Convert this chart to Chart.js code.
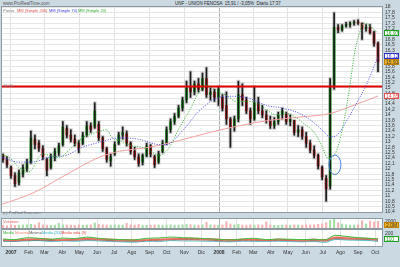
<!DOCTYPE html>
<html>
<head>
<meta charset="utf-8">
<script src="https://cdn.jsdelivr.net/npm/chart.js@4.4.1/dist/chart.umd.min.js"></script>
<style>
  body { margin: 0; width: 400px; height: 267px; overflow: hidden; background: #cbd9e2; font-family: "Liberation Sans", Arial, sans-serif; }
  .box { position: absolute; left: 0; width: 400px; }
  .txt { position: absolute; font-size: 4px; line-height: 5px; white-space: nowrap; color: #333; }
</style>
</head>
<body>
<div class="txt" style="left:3px;top:1px;font-size:4.5px;color:#555">www.ProRealTime.com</div>
<div class="txt" style="left:175px;top:1px;font-size:4.5px;color:#222">UNF - UNION FENOSA &nbsp;15,91 / -3,05% &nbsp;Diario 17:37</div>

<div class="box" style="top:0;height:218px"><canvas id="main"></canvas></div>
<div class="box" style="top:218px;height:41px"><canvas id="lower"></canvas></div>

<div class="txt" style="left:3px;top:8px;color:#777">Precio</div>
<div class="txt" style="left:17px;top:8px;color:#e05050">MM (Simple 200)</div>
<div class="txt" style="left:49px;top:8px;color:#4040e0">MM (Simple 70)</div>
<div class="txt" style="left:78px;top:8px;color:#30b030">MM (Simple 20)</div>
<div class="txt" style="left:3px;top:83px;color:#777">15,00</div>
<div class="txt" style="left:3px;top:210px;color:#777">(c) ProRealTime.com</div>
<div class="txt" style="left:3px;top:219px;color:#e06060">Volumen</div>
<div class="txt" style="left:3px;top:230px;color:#30b030">Media</div>
<div class="txt" style="left:15px;top:230px;color:#f08070">Maxima</div>
<div class="txt" style="left:29px;top:230px;color:#555">Minima</div>
<div class="txt" style="left:42px;top:230px;color:#20b0c0">Media (20)</div>
<div class="txt" style="left:61px;top:230px;color:#e04040">Media vela (9)</div>

<script>
// semanas desde el 1 de enero de 2007 (la primera vela es la semana -2)
const firstWeek = -2;
const xMin = -2.25, xMax = 93;

const monthNames = ["2007", "Feb", "Mar", "Abr", "May", "Jun", "Jul", "Ago", "Sep", "Oct", "Nov", "Dic",
                    "2008", "Feb", "Mar", "Abr", "May", "Jun", "Jul", "Ago", "Sep", "Oct"];

// velas semanales: minimo, maximo, apertura, cierre
const low = [
  12.2, 12.0, 11.6, 11.3, 11.35, 11.65, 11.85, 12.15, 12.7, 12.6, 12.3, 11.7,
  11.95, 12.25, 12.45, 12.8, 13.1, 12.95, 12.8, 12.55, 12.85, 13.15,
  13.3, 13.45, 13.0, 12.6, 12.2, 12.05, 12.45, 12.85, 13.05, 12.8,
  12.5, 12.3, 12.05, 12.1, 12.4, 12.4, 12.0, 12.15, 12.55, 12.85,
  13.3, 13.6, 13.85, 14.1, 14.4, 14.6, 14.7, 14.8, 14.85, 14.6,
  14.5, 14.45, 14.3, 14.1, 13.6, 12.75, 13.35, 13.7, 14.3, 14.0,
  13.6, 13.75, 14.0, 13.85, 13.65, 13.45, 13.45, 13.6, 13.8, 13.6,
  13.55, 13.2, 13.15, 13.05, 12.75, 12.55, 12.35, 11.95, 11.55, 10.75,
  11.2, 14.9, 17.0, 17.05, 17.2, 17.2, 17.28, 17.3, 16.75, 17.05,
  16.95, 16.5, 15.55
];
const high = [
  12.5, 12.4, 12.05, 11.8, 11.9, 12.1, 12.3, 13.35, 13.2, 13.0, 12.8, 12.35,
  12.5, 12.7, 12.9, 13.7, 13.55, 13.4, 13.2, 13.0, 13.3, 13.7,
  13.65, 14.4, 13.7, 13.15, 12.75, 12.5, 12.95, 13.3, 13.5, 13.35,
  12.95, 12.75, 12.5, 12.5, 12.9, 12.85, 12.45, 12.6, 13.0, 13.5,
  13.8, 14.0, 14.3, 14.6, 15.2, 15.55, 15.2, 15.3, 15.5, 15.7,
  14.95, 14.9, 15.0, 14.7, 14.8, 13.85, 13.9, 15.2, 15.1, 14.6,
  14.2, 15.0, 14.6, 14.3, 14.1, 13.9, 13.85, 14.05, 14.2, 14.05,
  13.95, 13.75, 13.55, 13.5, 13.3, 13.0, 12.8, 12.5, 12.05, 11.7,
  15.3, 17.73, 17.3, 17.3, 17.38, 17.4, 17.45, 17.47, 17.35, 17.3,
  17.3, 17.05, 16.65
];
const open = [
  12.45, 12.3, 12.0, 11.7, 11.45, 11.75, 11.95, 12.2, 13.05, 12.9, 12.7, 12.3,
  12.0, 12.35, 12.55, 12.85, 13.45, 13.2, 13.05, 12.9, 12.9, 13.2,
  13.55, 13.5, 13.6, 13.1, 12.7, 12.25, 12.5, 12.9, 13.2, 13.25,
  12.9, 12.6, 12.4, 12.2, 12.45, 12.8, 12.4, 12.2, 12.6, 12.9,
  13.4, 13.7, 13.9, 14.2, 14.5, 15.0, 14.8, 15.1, 14.9, 15.3,
  14.7, 14.8, 14.6, 14.6, 14.3, 13.8, 13.5, 13.8, 14.7, 14.5,
  14.1, 13.8, 14.4, 14.1, 13.95, 13.75, 13.55, 13.7, 13.95, 14.0,
  13.7, 13.75, 13.3, 13.4, 13.15, 12.9, 12.65, 12.45, 12.0, 11.6,
  11.3, 15.0, 17.2, 17.1, 17.25, 17.3, 17.35, 17.4, 17.35, 17.15,
  17.2, 17.0, 16.6
];
const close = [
  12.3, 12.1, 11.7, 11.4, 11.8, 12.0, 12.2, 13.1, 12.85, 12.7, 12.4, 11.9,
  12.4, 12.6, 12.8, 13.5, 13.2, 13.05, 12.9, 12.7, 13.2, 13.55,
  13.4, 14.1, 13.1, 12.7, 12.3, 12.4, 12.85, 13.2, 13.3, 12.9,
  12.6, 12.4, 12.15, 12.45, 12.8, 12.5, 12.1, 12.5, 12.9, 13.4,
  13.7, 13.9, 14.2, 14.5, 15.0, 14.8, 15.1, 14.9, 15.3, 14.7,
  14.8, 14.6, 14.9, 14.2, 13.8, 13.5, 13.8, 14.7, 14.5, 14.1,
  13.8, 14.4, 14.1, 13.95, 13.75, 13.55, 13.7, 13.95, 14.1, 13.7,
  13.8, 13.3, 13.4, 13.15, 12.9, 12.65, 12.45, 12.05, 11.65, 11.2,
  15.0, 17.2, 17.1, 17.25, 17.3, 17.35, 17.4, 17.35, 17.15, 17.2,
  17.0, 16.6, 15.91
];

// volumen semanal (miles)
const volume = [
  850, 700, 950, 800, 850, 900, 950, 1100, 900, 1600, 950, 850,
  800, 850, 1400, 950, 900, 850, 800, 950, 850, 900,
  950, 1500, 1100, 950, 900, 850, 950, 900, 850, 1400,
  950, 900, 1100, 850, 800, 850, 950, 900, 850, 900,
  950, 850, 900, 950, 1100, 1000, 900, 850, 950, 1700,
  950, 900, 850, 950, 1900, 1200, 950, 1100, 900, 850,
  950, 900, 950, 850, 1800, 900, 850, 800, 850, 900,
  850, 950, 900, 850, 950, 900, 950, 1100, 1200, 1600,
  2300, 2650, 1600, 1200, 950, 850, 900, 950, 2200, 1200,
  2100, 1800, 2000
];
const volMax = 2700, volTick = 2000;

// medias moviles (semana, valor)
const mm200Week = [-2.2, 5.3, 13.8, 22.1, 27.2, 34.7, 42.2, 49.8, 57.3, 64.8, 72.4, 79.9, 84.9, 92];
const mm200 = [10.64, 11.04, 11.73, 12.38, 12.6, 12.75, 13.0, 13.3, 13.55, 13.75, 13.87, 14.0, 14.25, 14.65];

const mm70Week = [-2.2, 2, 5.3, 9.6, 13.8, 17.9, 22.1, 27.2, 32.2, 37.2, 39, 43, 47.2, 51.5, 55.5,
                  59.8, 64.1, 68.1, 72.4, 75.6, 78.2, 79.9, 81.7, 84.2, 86.7, 89.2, 92];
const mm70 = [12.38, 12.2, 12.2, 12.38, 12.45, 12.75, 12.93, 13.1, 13.04, 12.85, 12.85, 13.36, 14.1, 14.56, 14.64,
              14.56, 14.3, 14.2, 14.0, 13.7, 13.36, 13.14, 13.2, 13.75, 14.4, 15.1, 16.12];

const mm20Week = [-2.2, -0.5, 2, 4.5, 7.8, 9.6, 12, 15.3, 17.9, 21.4, 23.9, 25.4, 27.2, 30.4, 32.9,
                  35.4, 37.2, 39.7, 42.2, 44.7, 47.2, 49, 51.5, 54, 56.5, 59, 61.6, 64.1, 66.6,
                  69.1, 71.6, 73.6, 75.4, 76.9, 78.2, 79.4, 80.7, 82.4, 83.7, 84.9, 86.2, 87.4, 88.4, 90, 92];
const mm20 = [12.45, 12.38, 12.0, 11.84, 12.5, 12.45, 12.38, 12.75, 13.1, 13.3, 13.4, 13.1, 13.0, 12.8, 12.75,
              12.56, 12.45, 12.75, 13.47, 14.1, 14.8, 15.04, 14.85, 14.67, 14.45, 14.45, 14.4, 14.13, 13.95,
              14.0, 13.84, 13.6, 13.4, 13.1, 12.7, 12.35, 12.4, 13.0, 13.9, 15.0, 16.3, 17.0, 17.35, 17.25, 16.97];

const resistance = 15.0;
const circleWeek = 81.2, circlePrice = 12.1;

// indicador inferior
const indWeek = [-2, 1, 4, 7, 10, 13, 16, 19, 22, 25, 28, 31, 34, 37, 40, 43, 46, 49, 52, 55, 58, 61, 64, 67,
                 70, 73, 76, 79, 81, 84, 87, 90, 92];
const indGreen = [110, 100, 130, 120, 105, 125, 115, 140, 120, 105, 100, 95, 120, 125, 140, 130, 125, 115, 105, 95,
                  110, 120, 100, 110, 105, 100, 105, 100, 165, 150, 130, 120, 110];
const indRed = [95, 90, 100, 110, 100, 95, 105, 115, 110, 100, 95, 90, 95, 100, 110, 115, 115, 110, 100, 95,
                100, 100, 95, 100, 95, 95, 100, 95, 130, 125, 120, 115, 105];
const indBlack = [85, 80, 90, 95, 85, 90, 90, 100, 95, 85, 80, 75, 85, 90, 100, 100, 100, 95, 85, 80,
                  90, 90, 85, 90, 85, 80, 85, 80, 115, 110, 105, 100, 90];
const indCyan = [70, 75, 80, 85, 70, 80, 75, 85, 80, 70, 65, 60, 75, 70, 85, 80, 80, 75, 70, 65,
                 75, 70, 70, 75, 70, 65, 70, 60, 100, 95, 90, 85, 70];
const indMax = 250, indTick = 200;

// ---------------------------------------------------------------
const FONT = "Liberation Sans";
const GREEN = "#18a018", RED = "#d01818";
const BLUEGREY = "#cbd9e2", EDGE = "#8e9aa2";
// alturas (px) de los dos paneles inferiores dentro del mismo grafico
const volH = 9, gapH = 2, indH = 16;

const wk = (i) => firstWeek + i;
const pts = (ws, vs) => ws.map((w, i) => ({ x: w, y: vs[i] }));
const comma = (v, d) => v.toFixed(d).replace(".", ",");
const last = (a) => a[a.length - 1];
const monthWeek = (i) => (Date.UTC(2007, i, 1) - Date.UTC(2007, 0, 1)) / 864e5 / 7;
const up = close.map((c, i) => c >= open[i]);

function monthTicks(every) {
  return (scale) => {
    scale.ticks = monthNames.map((n, i) => ({ value: monthWeek(i), label: n }))
      .filter((t, i) => i % every === 0);
  };
}
const gridColor = (ctx) => (ctx.tick && Math.abs(ctx.tick.value - monthWeek(12)) < 0.01 ? "#b0b0b0" : "#e2e2e2");

const whiteArea = {
  id: "whiteArea",
  beforeDraw(chart) {
    const { ctx, chartArea: a } = chart;
    ctx.save();
    ctx.fillStyle = "#ffffff";
    ctx.fillRect(a.left, a.top, a.right - a.left, a.bottom - a.top);
    ctx.restore();
  }
};

function frame(ctx, l, t, r, b) {
  ctx.strokeStyle = EDGE;
  ctx.lineWidth = 1;
  ctx.strokeRect(l - 0.5, t - 0.5, r - l + 1, b - t + 1);
}

// etiqueta de valor en el eje derecho
function tag(ctx, py, text, fg, bg, border) {
  ctx.fillStyle = bg;
  ctx.fillRect(384, py - 3, 15, 6);
  ctx.strokeStyle = border;
  ctx.lineWidth = 1;
  ctx.strokeRect(384.5, py - 2.5, 14, 5);
  ctx.fillStyle = fg;
  ctx.font = "5px " + FONT;
  ctx.textBaseline = "middle";
  ctx.fillText(text, 386, py + 0.5);
}

// circulo azul, marco y etiquetas de las medias
const mainMarks = {
  id: "mainMarks",
  afterDatasetsDraw(chart) {
    const { ctx, chartArea: a, scales: { x, y } } = chart;
    ctx.save();
    const cx = x.getPixelForValue(circleWeek), cy = y.getPixelForValue(circlePrice);
    const rx = x.getPixelForValue(circleWeek + 1.5) - cx;
    const ry = cy - y.getPixelForValue(circlePrice + 0.36);
    ctx.strokeStyle = "#4a7fe0";
    ctx.lineWidth = 1;
    ctx.beginPath();
    ctx.ellipse(cx, cy, rx, ry, 0, 0, Math.PI * 2);
    ctx.stroke();
    frame(ctx, a.left, a.top, a.right, a.bottom);

    [[last(mm20), "#20a020", "#ffffff", "#20a020"],
     [last(mm70), "#3030d0", "#ffffff", "#3030d0"],
     [last(close), "#333333", "#f0b020", "#c08000"],
     [last(mm200), "#e05050", "#ffffff", "#e05050"]].forEach(([v, fg, bg, bd]) => {
      tag(ctx, Math.round(y.getPixelForValue(v)), comma(v, 2), fg, bg, bd);
    });
    ctx.restore();
  }
};

// separa volumen e indicador, dibuja sus marcos, ticks y etiquetas
const lowerMarks = {
  id: "lowerMarks",
  afterDatasetsDraw(chart) {
    const { ctx, chartArea: a, scales: { yv, yi } } = chart;
    const volBottom = Math.round(yv.getPixelForValue(0));
    const indTop = Math.round(yi.getPixelForValue(indMax));
    ctx.save();
    ctx.fillStyle = BLUEGREY;
    ctx.fillRect(a.left - 1, volBottom, a.right - a.left + 2, indTop - volBottom);
    ctx.fillRect(a.right + 1, a.top - 1, 18, a.bottom - a.top + 2);
    frame(ctx, a.left, a.top, a.right, volBottom);
    frame(ctx, a.left, indTop, a.right, a.bottom);

    ctx.fillStyle = "#333";
    ctx.font = "5px " + FONT;
    ctx.textBaseline = "middle";
    ctx.fillText(String(volTick), 385, yv.getPixelForValue(volTick));
    ctx.fillText(String(indTick), 385, yi.getPixelForValue(indTick));
    tag(ctx, volBottom - 3, comma(last(volume) / 1000, 1) + "M", "#333", "#f0b020", "#c08000");
    tag(ctx, Math.round(yi.getPixelForValue(last(indGreen))), String(last(indGreen)), "#20a020", "#ffffff", "#20a020");
    ctx.restore();
  }
};

const candleData = (a, b) => low.map((_, i) => ({ x: wk(i), y: [a[i], b[i]] }));

const timeAxis = (every) => ({
  type: "linear", min: xMin, max: xMax, offset: false,
  afterBuildTicks: monthTicks(every),
  afterFit: (s) => { s.height = 0; },
  ticks: { display: false },
  grid: { color: gridColor, drawTicks: false, offset: false },
  border: { display: false }
});

new Chart(document.getElementById("main"), {
  type: "bar",
  data: {
    datasets: [
      { type: "line", data: pts(mm20Week, mm20), borderColor: "#30b030", borderWidth: 1, borderDash: [1, 1.5],
        pointRadius: 0, cubicInterpolationMode: "monotone", order: 0 },
      { type: "line", data: pts(mm70Week, mm70), borderColor: "#5050f0", borderWidth: 1, borderDash: [1, 1.5],
        pointRadius: 0, cubicInterpolationMode: "monotone", order: 0 },
      { type: "line", data: pts(mm200Week, mm200), borderColor: "#f4a0a0", borderWidth: 1,
        pointRadius: 0, cubicInterpolationMode: "monotone", order: 0 },
      { type: "line", data: [{ x: xMin, y: resistance }, { x: xMax, y: resistance }], borderColor: "#e00000",
        borderWidth: 2, pointRadius: 0, order: 0 },
      { data: candleData(low, high), backgroundColor: "#1a1a1a", barThickness: 1, grouped: false, order: 1 },
      { data: candleData(open, close), backgroundColor: up.map(u => (u ? GREEN : RED)), barThickness: 2,
        grouped: false, order: 2 },
      { data: candleData(low, high).map(p => ({ x: p.x, y: [p.y[0] - 0.04, p.y[1] + 0.04] })),
        backgroundColor: "rgba(165,165,165,0.55)", barThickness: 3, grouped: false, order: 3 }
    ]
  },
  options: {
    responsive: true, maintainAspectRatio: false, animation: false,
    layout: { padding: { left: 2, top: 7, bottom: 1, right: 0 } },
    plugins: { legend: { display: false }, tooltip: { enabled: false } },
    scales: {
      x: timeAxis(2),
      y: {
        position: "right", min: 10.35, max: 17.95,
        afterFit: (s) => { s.width = 18; },
        ticks: {
          stepSize: 0.2, includeBounds: false, autoSkip: false, padding: 3,
          font: { size: 5, family: FONT }, color: "#333",
          callback: (v) => { const r = Math.round(v * 10) / 10; return Number.isInteger(r) ? String(r) : comma(r, 1); }
        },
        grid: { color: "#e6e6e6", drawTicks: false },
        border: { display: false }
      }
    }
  },
  plugins: [whiteArea, mainMarks]
});

const lowerX = timeAxis(1);
lowerX.afterFit = (s) => { s.height = 13; };
lowerX.ticks = {
  display: true, autoSkip: false, maxRotation: 0, padding: 4, color: "#333",
  font: (c) => ({ size: 5, family: FONT, weight: c.tick && /^20/.test(c.tick.label) ? "bold" : "normal" }),
  callback: (v, i, t) => t[i].label
};

// volumen arriba e indicador abajo, cada uno con su propio eje y
new Chart(document.getElementById("lower"), {
  type: "bar",
  data: {
    datasets: [
      { type: "line", yAxisID: "yi", data: pts(indWeek, indGreen), borderColor: "#40c040", borderWidth: 1,
        pointRadius: 0, tension: 0.3, fill: { target: 3 }, backgroundColor: "rgba(250,170,150,0.55)" },
      { type: "line", yAxisID: "yi", data: pts(indWeek, indRed), borderColor: "#e02020", borderWidth: 1.5,
        pointRadius: 0, tension: 0.3 },
      { type: "line", yAxisID: "yi", data: pts(indWeek, indBlack), borderColor: "#222", borderWidth: 1,
        pointRadius: 0, tension: 0.3 },
      { type: "line", yAxisID: "yi", data: pts(indWeek, indCyan), borderColor: "#30c0d0", borderWidth: 1,
        pointRadius: 0, tension: 0.3 },
      { yAxisID: "yv", data: volume.map((v, i) => ({ x: wk(i), y: v })),
        backgroundColor: up.map(u => (u ? "#a6dca6" : "#f4b4b4")), barThickness: 1.5, grouped: false }
    ]
  },
  options: {
    responsive: true, maintainAspectRatio: false, animation: false,
    layout: { padding: { left: 2, top: 1, bottom: 0, right: 18 } },
    plugins: { legend: { display: false }, tooltip: { enabled: false } },
    scales: {
      x: lowerX,
      yv: { display: false, min: -volMax * (gapH + indH) / volH, max: volMax },
      yi: { display: false, min: 0, max: indMax * (1 + (volH + gapH) / indH) }
    }
  },
  plugins: [whiteArea, lowerMarks]
});
</script>
</body>
</html>
